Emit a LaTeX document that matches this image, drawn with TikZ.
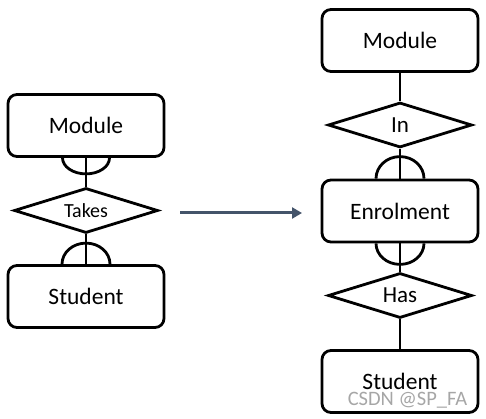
\documentclass[tikz,border=0pt]{standalone}
\usepackage{fontspec}
\setmainfont{Carlito}
\usetikzlibrary{shapes.geometric,arrows.meta}
\definecolor{arrowblue}{HTML}{44546A}
\tikzset{
  entity/.style={draw=black, line width=2.8pt, rounded corners=9pt, minimum width=156pt, minimum height=62pt, inner sep=0pt, font=\fontsize{23.5}{27}\selectfont},
  relation/.style={draw=black, line width=2.8pt, diamond, aspect=3.2, minimum width=144pt, minimum height=45pt, inner sep=0pt, font=\fontsize{23}{27}\selectfont},
  link/.style={line width=2.8pt, black},
  crow/.style={line width=2.8pt, black},
  flow/.style={line width=3pt, arrowblue, -{Triangle[length=10pt,width=11pt]}}
}
\begin{document}
\begin{tikzpicture}[x=1pt,y=1pt]
\useasboundingbox (0,0) rectangle (486,-419);
% left diagram
\node[entity] (lmod) at (86,-125.5) {Module};
\node[relation, font=\fontsize{20}{24}\selectfont] (takes) at (86,-210.5) {Takes};
\node[entity] (lstu) at (86,-296.5) {Student};
\draw[link] (lmod) -- (takes);
\draw[link] (takes) -- (lstu);
\draw[crow] ([xshift=-23.5pt]lmod.south) arc[start angle=180, end angle=360, x radius=23.5pt, y radius=16pt];
\draw[crow] ([xshift=-24pt]lstu.north) arc[start angle=180, end angle=0, x radius=24pt, y radius=21pt];
% arrow
\coordinate (as) at (180,-213);
\coordinate (ae) at (302,-213);
\draw[flow] (as) -- (ae);
% right diagram
\node[entity] (rmod) at (400,-40.5) {Module};
\node[relation] (in) at (400,-125) {In};
\node[entity] (enr) at (400,-211) {Enrolment};
\node[relation] (has) at (400,-295.5) {Has};
\node[entity] (rstu) at (400,-381.5) {Student};
\draw[link] (rmod) -- (in);
\draw[link] (in) -- (enr);
\draw[link] (enr) -- (has);
\draw[link] (has) -- (rstu);
\draw[crow] ([xshift=-24pt]enr.north) arc[start angle=180, end angle=0, x radius=24pt, y radius=22pt];
\draw[crow] ([xshift=-24pt]enr.south) arc[start angle=180, end angle=360, x radius=24pt, y radius=21pt];
% watermark
\node[text=black!35, font=\fontsize{20.5}{24}\selectfont, inner sep=0pt] (wm) at (407.5,-400) {CSDN @SP\_FA};
\end{tikzpicture}
\end{document}
